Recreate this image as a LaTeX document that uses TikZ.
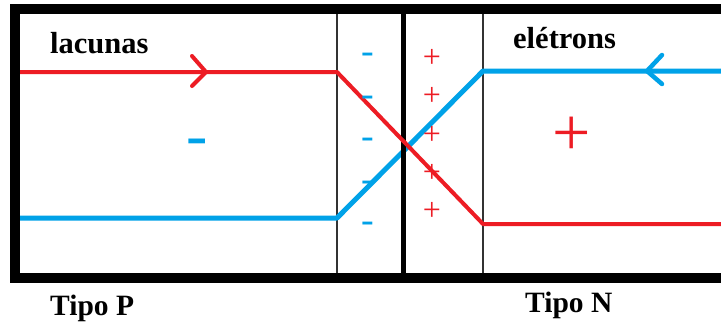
\documentclass[tikz,border=0pt]{standalone}
\usepackage{fontspec}
\setmainfont{Liberation Serif}
\definecolor{pred}{RGB}{237,28,36}
\definecolor{pblue}{RGB}{0,162,232}
\begin{document}
\begin{tikzpicture}[x=1pt,y=-1pt,
  lbl/.style={anchor=base west,inner sep=0pt,font=\fontsize{30.5}{30.5}\selectfont\bfseries},
  tlbl/.style={anchor=base west,inner sep=0pt,font=\fontsize{29.5}{29.5}\selectfont\bfseries},
  chg/.style={anchor=base,inner sep=0pt},
  smallminus/.style={chg,text=pblue,font=\fontsize{38}{38}\selectfont},
  smallplus/.style={chg,text=pred,font=\fontsize{32}{32}\selectfont},
  redline/.style={draw=pred,line width=4pt,line join=round},
  blueline/.style={draw=pblue,line width=5pt,line join=round},
  redhead/.style={draw=pred,line width=4pt,line cap=round,line join=round},
  bluehead/.style={draw=pblue,line width=4.5pt,line cap=round,line join=round},
  thinline/.style={draw=black!80,line width=1.2pt}]
\useasboundingbox (0,0) rectangle (721,322);
\clip (0,0) rectangle (721,322);
\fill[white] (0,0) rectangle (721,322);
% junction boundaries
\coordinate (pt) at (337,9); \coordinate (pb) at (337,277);
\coordinate (nt) at (483,9); \coordinate (nb) at (483,277);
\coordinate (ct) at (403,9); \coordinate (cb) at (403,277);
\draw[thinline] (pt) -- (pb);
\draw[thinline] (nt) -- (nb);
% blue (electrons) path
\coordinate (b0) at (15,218); \coordinate (b1) at (337,218);
\coordinate (b2) at (483,71); \coordinate (b3) at (730,71);
\draw[blueline] (b0) -- (b1) -- (b2) -- (b3);
% center thick line
\draw[line width=5pt] (ct) -- (cb);
% red (holes) path
\coordinate (r0) at (15,72); \coordinate (r1) at (337,72);
\coordinate (r2) at (483,224); \coordinate (r3) at (730,224);
\draw[redline] (r0) -- (r1) -- (r2) -- (r3);
% arrow heads
\coordinate (ra1) at (192,56); \coordinate (rat) at (206,72); \coordinate (ra2) at (192,86);
\draw[redhead] (ra1) -- (rat) -- (ra2);
\coordinate (ba1) at (662,55); \coordinate (bat) at (647,71); \coordinate (ba2) at (662,84);
\draw[bluehead] (ba1) -- (bat) -- (ba2);
% outer box
\draw[line width=10pt] (15,9) rectangle (745,277.5);
% labels
\node[lbl] (lac) at (50,53) {lacunas};
\node[lbl] (ele) at (513,48) {elétrons};
\node[tlbl] (tp) at (50,315) {Tipo P};
\node[tlbl] (tn) at (525,312) {Tipo N};
% big charges
\node[chg,text=pblue,font=\fontsize{64}{64}\selectfont] (bm) at (197,156) {-};
\node[chg,text=pred,font=\fontsize{68}{68}\selectfont] (bp) at (572,155) {+};
% depletion charges
\node[smallminus] (m1) at (368,63) {-};
\node[smallminus] (m2) at (368,106) {-};
\node[smallminus] (m3) at (368,148) {-};
\node[smallminus] (m4) at (368,191) {-};
\node[smallminus] (m5) at (368,232) {-};
\node[smallplus] (p1) at (432,67) {+};
\node[smallplus] (p2) at (432,105) {+};
\node[smallplus] (p3) at (432,144) {+};
\node[smallplus] (p4) at (432,182) {+};
\node[smallplus] (p5) at (432,220) {+};
\end{tikzpicture}
\end{document}
